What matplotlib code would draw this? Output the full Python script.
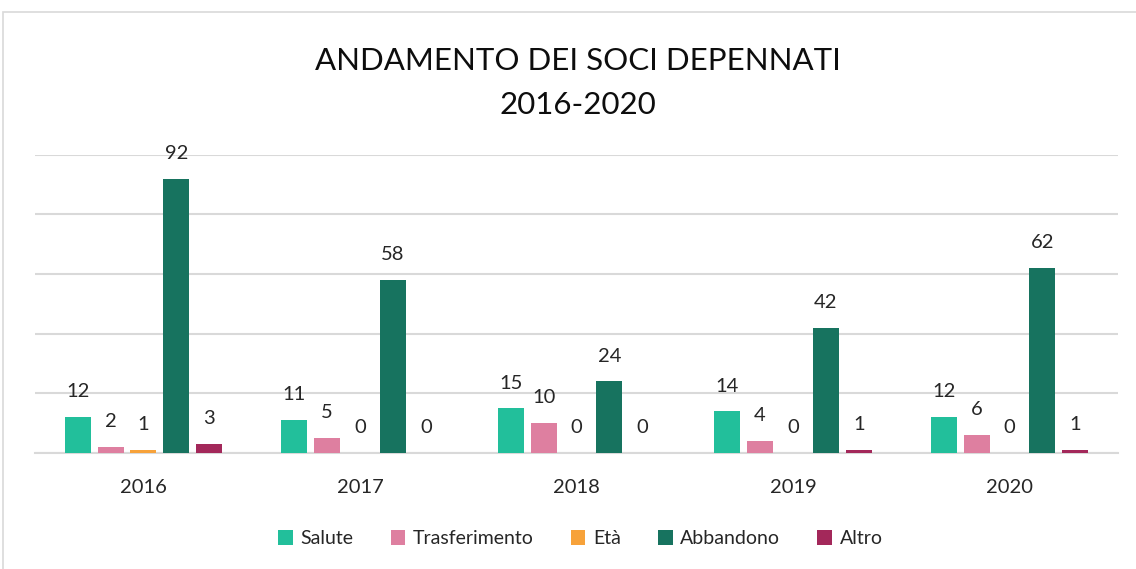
import numpy as np
import matplotlib.pyplot as plt
from matplotlib.patches import Rectangle

plt.rcParams['font.family'] = ['Lato', 'DejaVu Sans']

anni = ['2016', '2017', '2018', '2019', '2020']
serie = ['Salute', 'Trasferimento', 'Età', 'Abbandono', 'Altro']
salute = [12, 11, 15, 14, 12]
trasferimento = [2, 5, 10, 4, 6]
eta = [1, 0, 0, 0, 0]
abbandono = [92, 58, 24, 42, 62]
altro = [3, 0, 0, 1, 1]
colori = ['#22BF9B', '#DE7FA0', '#F7A23A', '#17735F', '#A3285A']

valori = [salute, trasferimento, eta, abbandono, altro]

fig = plt.figure(figsize=(11.36, 5.69), dpi=100)
ax = fig.add_axes([0.031, 0.204, 0.953, 0.524])

# cornice del grafico
fig.patches.append(Rectangle((3 / 1136, -0.05), 1.1, 1 - 12 / 569 + 0.05,
                             transform=fig.transFigure, fill=False,
                             edgecolor='#D9D9D9', linewidth=1.2))

x = np.arange(len(anni))
w = 0.12
passo = 0.152
for i, (nome, vals, col) in enumerate(zip(serie, valori, colori)):
    pos = x + (i - 2) * passo
    ax.bar(pos, vals, width=w, color=col, label=nome, zorder=3)
    for xp, v in zip(pos, vals):
        ax.annotate(str(v), (xp, v), xytext=(0, 12), textcoords='offset points',
                    ha='center', va='bottom', fontsize=14.5, color='#262626')

ax.set_xlim(-0.5, 4.5)
ax.set_ylim(0, 100)
ax.set_yticks([0, 20, 40, 60, 80, 100])
ax.yaxis.grid(True, color='#D9D9D9', linewidth=1.5, zorder=0)
ax.tick_params(axis='y', left=False, labelleft=False)
ax.set_xticks(x)
ax.set_xticklabels(anni, fontsize=14.5, color='#262626')
ax.tick_params(axis='x', length=0, pad=19)
for s in ['top', 'right', 'left']:
    ax.spines[s].set_visible(False)
ax.spines['bottom'].set_color('#D9D9D9')
ax.spines['bottom'].set_linewidth(1.5)

fig.text(0.509, 0.892, 'ANDAMENTO DEI SOCI DEPENNATI', ha='center', va='center',
         fontsize=22.5, color='#0D0D0D')
fig.text(0.509, 0.816, '2016-2020', ha='center', va='center',
         fontsize=22.5, color='#0D0D0D')

fig.legend(loc='center', bbox_to_anchor=(0.511, 0.053), ncol=5, frameon=False,
           fontsize=14, handlelength=0.75, handleheight=0.75, handletextpad=0.4,
           columnspacing=1.9, labelcolor='#262626')

fig.savefig('out.png', dpi=100)
